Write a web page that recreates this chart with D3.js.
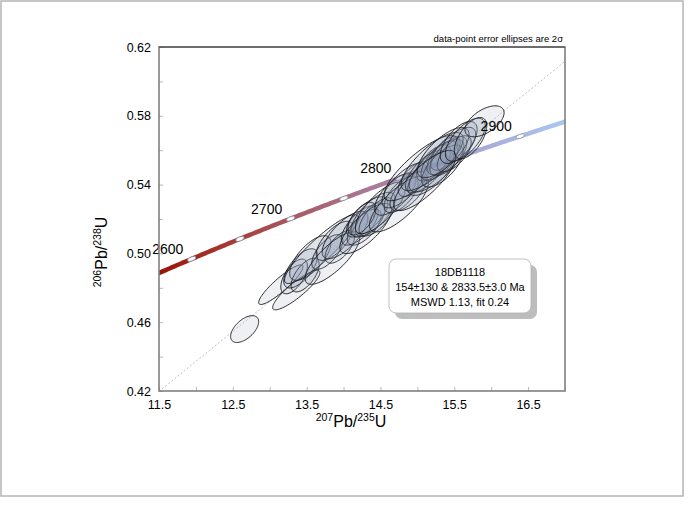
<!DOCTYPE html>
<html>
<head>
<meta charset="utf-8">
<script src="https://cdn.jsdelivr.net/npm/d3@7"></script>
<style>
  body { margin: 0; background: #fff; }
  text { font-family: "Liberation Sans", Arial, sans-serif; }
</style>
</head>
<body>
<svg id="concordia_chart"></svg>
<script>
// data-point ellipses: 207Pb/235U, 206Pb/238U, 2-sigma half widths and error correlation
const r75 = [12.66, 13.15, 13.36, 13.33, 13.42, 13.48, 13.55, 13.70, 13.78, 13.88, 13.95, 14.02, 13.85,
  14.22, 14.28, 14.32, 14.36, 14.40, 14.30, 14.45, 14.25, 14.50, 14.70, 14.78, 14.82, 14.88, 14.75, 14.95,
  15.05, 15.12, 15.18, 15.22, 15.26, 15.30, 15.34, 15.38, 15.42, 15.46, 15.50, 15.20, 15.35, 15.10,
  15.56, 15.65, 15.72, 15.91]
const r68 = [0.4560, 0.4818, 0.4787, 0.4866, 0.4913, 0.4874, 0.4973, 0.5025, 0.5008, 0.5073, 0.5038, 0.5107, 0.4973,
  0.5162, 0.5153, 0.5212, 0.5196, 0.5225, 0.5145, 0.5212, 0.5202, 0.5265, 0.5344, 0.5342, 0.5395, 0.5362, 0.5287, 0.5432,
  0.5496, 0.5476, 0.5467, 0.5526, 0.5510, 0.5539, 0.5508, 0.5582, 0.5566, 0.5595, 0.5579, 0.5534, 0.5586, 0.5424,
  0.5645, 0.5661, 0.5670, 0.5768]
const r75err = [0.19, 0.30, 0.32, 0.18, 0.23, 0.19, 0.28, 0.50, 0.21, 0.25, 0.20, 0.31, 0.37,
  0.25, 0.23, 0.28, 0.20, 0.30, 0.35, 0.24, 0.19, 0.34, 0.28, 0.23, 0.30, 0.25, 0.40, 0.21,
  0.50, 0.28, 0.31, 0.23, 0.37, 0.25, 0.28, 0.20, 0.25, 0.33, 0.23, 0.42, 0.35, 0.42,
  0.25, 0.27, 0.22, 0.265]
const r68err = [0.0078, 0.0115, 0.0115, 0.0101, 0.0114, 0.0098, 0.0130, 0.0200, 0.0101, 0.0114, 0.0095, 0.0138, 0.0153,
  0.0114, 0.0105, 0.0117, 0.0098, 0.0130, 0.0146, 0.0111, 0.0095, 0.0150, 0.0122, 0.0105, 0.0130, 0.0114, 0.0162, 0.0101,
  0.0190, 0.0122, 0.0130, 0.0105, 0.0153, 0.0114, 0.0122, 0.0098, 0.0114, 0.0138, 0.0105, 0.0169, 0.0146, 0.0175,
  0.0122, 0.0125, 0.0120, 0.0090]
const rho = [0.55, 0.90, 0.88, 0.60, 0.65, 0.62, 0.68, 0.90, 0.65, 0.68, 0.62, 0.72, 0.78,
  0.68, 0.65, 0.68, 0.62, 0.70, 0.75, 0.66, 0.60, 0.75, 0.68, 0.64, 0.72, 0.66, 0.76, 0.62,
  0.82, 0.68, 0.70, 0.64, 0.75, 0.66, 0.68, 0.62, 0.66, 0.72, 0.64, 0.78, 0.72, 0.80,
  0.62, 0.65, 0.60, 0.55]

// concordia age marks (Ma)
const tickAges = [2600, 2650, 2700, 2750, 2800, 2850, 2900]
const labelAges = [2600, 2700, 2800, 2900]
// intercept ages of the discordia (Ma)
const intercepts = [154, 2833.5]

// axis ticks
const xTicks = [11.5, 12, 12.5, 13, 13.5, 14, 14.5, 15, 15.5, 16, 16.5, 17]
const xLabels = [11.5, 12.5, 13.5, 14.5, 15.5, 16.5]
const yTicks = [0.42, 0.44, 0.46, 0.48, 0.50, 0.52, 0.54, 0.56, 0.58, 0.60, 0.62]
const yLabels = [0.42, 0.46, 0.50, 0.54, 0.58, 0.62]

const legendLines = ["18DB1118", "154\u00b1130 & 2833.5\u00b13.0 Ma", "MSWD 1.13, fit 0.24"]

// decay constants (per year)
const l238 = 1.55125e-10, l235 = 9.8485e-10
const conc = t => [Math.exp(l235 * t * 1e6) - 1, Math.exp(l238 * t * 1e6) - 1]

var W = 692, H = 505
var margin = {top: 47, right: 127, bottom: 114, left: 159},
  width = W - margin.left - margin.right,
  height = H - margin.top - margin.bottom

var svg = d3.select("#concordia_chart")
  .attr("width", W)
  .attr("height", H)

// outer frame
svg.append("rect")
  .attr("x", 1).attr("y", 1)
  .attr("width", 682).attr("height", 495)
  .attr("fill", "none")
  .attr("stroke", "#b4b4b4")
  .attr("stroke-width", 1.5)

var x = d3.scaleLinear().domain([11.5, 17]).range([0, width])
var y = d3.scaleLinear().domain([0.42, 0.62]).range([height, 0])

var g = svg.append("g")
  .attr("transform", "translate(" + margin.left + "," + margin.top + ")")

var defs = svg.append("defs")
defs.append("clipPath").attr("id", "plotclip")
  .append("rect").attr("width", width).attr("height", height)

// colour along the concordia, set by age -> x position
var ageColor = d3.scaleLinear()
  .domain([2565, 2650, 2750, 2850, 2935])
  .range(["#9a1408", "#a8403a", "#a86f86", "#a8a2d0", "#a9c8f2"])
var grad = defs.append("linearGradient")
  .attr("id", "concgrad")
  .attr("gradientUnits", "userSpaceOnUse")
  .attr("x1", 0).attr("x2", width).attr("y1", 0).attr("y2", 0)
grad.selectAll("stop")
  .data(ageColor.domain())
  .enter().append("stop")
  .attr("offset", d => x(conc(d)[0]) / width)
  .attr("stop-color", d => ageColor(d))

var plot = g.append("g").attr("clip-path", "url(#plotclip)")

// discordia
var lo = conc(intercepts[0]), up = conc(intercepts[1])
var slope = (up[1] - lo[1]) / (up[0] - lo[0])
plot.append("line")
  .attr("x1", x(11.5)).attr("y1", y(up[1] + slope * (11.5 - up[0])))
  .attr("x2", x(17)).attr("y2", y(up[1] + slope * (17 - up[0])))
  .attr("stroke", "#b0b0b0")
  .attr("stroke-width", 0.8)
  .attr("stroke-dasharray", "2,2")

// concordia curve
var ages = d3.range(2550, 2951, 2)
plot.append("path")
  .datum(ages)
  .attr("fill", "none")
  .attr("stroke", "url(#concgrad)")
  .attr("stroke-width", 4.5)
  .attr("d", d3.line().x(d => x(conc(d)[0])).y(d => y(conc(d)[1])))

// age marks on the concordia
plot.selectAll(".agemark")
  .data(tickAges)
  .enter().append("ellipse")
  .attr("class", "agemark")
  .attr("rx", 4.5).attr("ry", 2)
  .attr("fill", "#fff")
  .attr("stroke", "#7a8498")
  .attr("stroke-width", 0.7)
  .attr("transform", d => {
    var a = conc(d - 1), b = conc(d + 1)
    var ang = Math.atan2(y(b[1]) - y(a[1]), x(b[0]) - x(a[0])) * 180 / Math.PI
    return "translate(" + x(conc(d)[0]) + "," + y(conc(d)[1]) + ") rotate(" + ang + ")"
  })

g.selectAll(".agelabel")
  .data(labelAges)
  .enter().append("text")
  .attr("class", "agelabel")
  .attr("x", d => x(conc(d)[0]) - 24)
  .attr("y", d => y(conc(d)[1]) - 5)
  .attr("text-anchor", "middle")
  .attr("font-size", "14px")
  .attr("fill", "#000")
  .text(d => d)

// error ellipses
var theta = d3.range(0, 2 * Math.PI, Math.PI / 40)
var ellLine = d3.line().curve(d3.curveLinearClosed)
plot.selectAll(".ell")
  .data(r75.map((d, i) => i))
  .enter().append("path")
  .attr("class", "ell")
  .attr("fill", "#8a9cb8")
  .attr("fill-opacity", 0.15)
  .attr("stroke", "#151515")
  .attr("stroke-width", 0.9)
  .attr("d", i => ellLine(theta.map(t => [
    x(r75[i] + r75err[i] * Math.cos(t)),
    y(r68[i] + r68err[i] * (rho[i] * Math.cos(t) + Math.sqrt(1 - rho[i] * rho[i]) * Math.sin(t)))
  ])))

// axes with inward ticks
g.append("g")
  .attr("class", "xAxis")
  .attr("transform", "translate(0," + height + ")")
  .call(d3.axisBottom(x)
    .tickValues(xTicks)
    .tickSize(-4)
    .tickPadding(9)
    .tickFormat(d => xLabels.includes(d) ? d3.format(".1f")(d) : ""))

g.append("g")
  .attr("class", "yAxis")
  .call(d3.axisLeft(y)
    .tickValues(yTicks)
    .tickSize(-4)
    .tickPadding(8)
    .tickFormat(d => yLabels.some(v => Math.abs(v - d) < 1e-9) ? d3.format(".2f")(d) : ""))

g.selectAll(".domain").remove()
g.selectAll(".tick line").attr("stroke", "#b8b8b8")
g.selectAll(".tick text")
  .attr("font-size", "12.5px")
  .attr("font-family", "Liberation Sans, Arial, sans-serif")
  .attr("fill", "#000")

// plot frame
g.append("rect")
  .attr("width", width).attr("height", height)
  .attr("fill", "none")
  .attr("stroke", "#808080")
  .attr("stroke-width", 1.6)
g.append("line")
  .attr("x1", 0).attr("x2", width).attr("y1", 0).attr("y2", 0)
  .attr("stroke", "#404040")
  .attr("stroke-width", 1)

// axis titles
var xt = svg.append("text")
  .attr("x", 351).attr("y", 427)
  .attr("text-anchor", "middle")
  .attr("font-size", "16px")
xt.append("tspan").attr("font-size", "10.5px").attr("dy", -6).text("207")
xt.append("tspan").attr("dy", 6).text("Pb/")
xt.append("tspan").attr("font-size", "10.5px").attr("dy", -6).text("235")
xt.append("tspan").attr("dy", 6).text("U")

var yt = svg.append("text")
  .attr("transform", "translate(107,252) rotate(-90)")
  .attr("text-anchor", "middle")
  .attr("font-size", "16px")
yt.append("tspan").attr("font-size", "10.5px").attr("dy", -6).text("206")
yt.append("tspan").attr("dy", 6).text("Pb/")
yt.append("tspan").attr("font-size", "10.5px").attr("dy", -6).text("238")
yt.append("tspan").attr("dy", 6).text("U")

// note above the plot
svg.append("text")
  .attr("x", margin.left + width - 2).attr("y", 42)
  .attr("text-anchor", "end")
  .attr("font-size", "9.5px")
  .text("data-point error ellipses are 2\u03c3")

// result box
var box = svg.append("g").attr("transform", "translate(389,259)")
box.append("rect")
  .attr("x", 6).attr("y", 6)
  .attr("width", 142).attr("height", 54)
  .attr("rx", 7)
  .attr("fill", "#bdbdbd")
box.append("rect")
  .attr("width", 142).attr("height", 54)
  .attr("rx", 7)
  .attr("fill", "#fff")
  .attr("stroke", "#b0b0b0")
  .attr("stroke-width", 0.8)
box.selectAll(".leg")
  .data(legendLines)
  .enter().append("text")
  .attr("class", "leg")
  .attr("x", 71)
  .attr("y", (d, i) => 17 + i * 15)
  .attr("text-anchor", "middle")
  .attr("font-size", "11px")
  .text(d => d)
</script>
</body>
</html>
